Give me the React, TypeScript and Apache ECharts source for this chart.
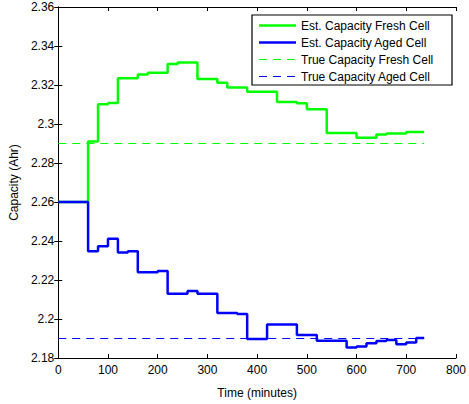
import React, { useEffect, useRef } from "react";
import * as echarts from "echarts";

const freshTimes = [0, 60, 80, 100, 120, 160, 180, 220, 240, 280, 320, 340, 380, 440, 480, 500, 540, 600, 640, 660, 700, 736];
const freshValues = [2.26, 2.291, 2.3101, 2.3108, 2.3234, 2.3254, 2.3263, 2.3308, 2.3315, 2.3231, 2.3212, 2.3187, 2.3165, 2.3113, 2.3106, 2.3076, 2.2954, 2.2929, 2.2946, 2.2951, 2.2959, 2.2959];

const agedTimes = [0, 60, 80, 100, 120, 140, 160, 200, 220, 260, 280, 320, 360, 380, 420, 480, 520, 540, 580, 600, 620, 640, 660, 680, 700, 720, 736];
const agedValues = [2.26, 2.2348, 2.2373, 2.2412, 2.2341, 2.2348, 2.224, 2.2246, 2.213, 2.2144, 2.213, 2.2031, 2.2026, 2.1898, 2.1972, 2.1918, 2.1889, 2.1888, 2.1854, 2.1859, 2.1876, 2.1887, 2.1892, 2.1871, 2.1879, 2.1903, 2.1903];

const trueFresh = 2.29;
const trueAged = 2.19;
const trueSpan = [0, 736];

const legendNames = [
  "Est. Capacity Fresh Cell",
  "Est. Capacity Aged Cell",
  "True Capacity Fresh Cell",
  "True Capacity Aged Cell",
];

const GREEN = "#00ff00";
const BLUE = "#0000ff";
const FONT = 'Arial, "Liberation Sans", Helvetica, sans-serif';

export default function App() {
  const ref = useRef<HTMLDivElement>(null);
  useEffect(() => {
    if (!ref.current) return;
    const chart = echarts.init(ref.current, null, { renderer: "svg" });
    const gl = 57, gt = 7, gw = 400, gh = 356;
    const legendX = 252, legendY = 15;
    const rowY = [25.5, 42.5, 59.5, 76.5];
    const legendColors = [GREEN, BLUE, GREEN, BLUE];
    const legendDash = [false, false, true, true];
    const legendGraphics: any[] = [
      {
        type: "rect",
        shape: { x: legendX, y: legendY, width: 200, height: 70 },
        style: { fill: "#fff", stroke: "#000", lineWidth: 1.2 },
        z: 100,
      },
    ];
    legendNames.forEach((name, i) => {
      legendGraphics.push({
        type: "line",
        shape: { x1: 259, y1: rowY[i], x2: 296, y2: rowY[i] },
        style: {
          stroke: legendColors[i],
          lineWidth: legendDash[i] ? 1 : 2.5,
          lineDash: legendDash[i] ? [8, 6] : null,
        },
        z: 101,
      });
      legendGraphics.push({
        type: "text",
        x: 301,
        y: rowY[i],
        style: {
          text: name,
          fill: "#000",
          font: `12px ${FONT}`,
          textVerticalAlign: "middle",
          verticalAlign: "middle",
        },
        z: 101,
      });
    });

    const fmt = (v: number) => String(parseFloat(v.toFixed(2)));
    const option: any = {
      animation: false,
      backgroundColor: "#fff",
      color: [GREEN, BLUE, GREEN, BLUE],
      grid: { left: gl, top: gt, width: gw, height: gh, containLabel: false },
      xAxis: [
        {
          type: "value",
          min: 0,
          max: 800,
          interval: 100,
          position: "bottom",
          name: "Time (minutes)",
          nameLocation: "middle",
          nameGap: 29,
          nameTextStyle: { color: "#000", fontSize: 12, fontFamily: FONT },
          axisLine: { show: true, lineStyle: { color: "#000", width: 1 } },
          axisTick: { show: true, inside: true, length: 4, lineStyle: { color: "#000" } },
          axisLabel: { color: "#000", fontSize: 12, fontFamily: FONT, margin: 6 },
          splitLine: { show: false },
        },
        {
          type: "value",
          min: 0,
          max: 800,
          interval: 100,
          position: "top",
          axisLine: { show: true, lineStyle: { color: "#000", width: 1 } },
          axisTick: { show: true, inside: true, length: 4, lineStyle: { color: "#000" } },
          axisLabel: { show: false },
          splitLine: { show: false },
        },
      ],
      yAxis: [
        {
          type: "value",
          min: 2.18,
          max: 2.36,
          interval: 0.02,
          position: "left",
          name: "Capacity (Ahr)",
          nameLocation: "middle",
          nameGap: 37,
          nameRotate: 90,
          nameTextStyle: { color: "#000", fontSize: 12, fontFamily: FONT },
          axisLine: { show: true, lineStyle: { color: "#000", width: 1 } },
          axisTick: { show: true, inside: true, length: 4, lineStyle: { color: "#000" } },
          axisLabel: { color: "#000", fontSize: 12, fontFamily: FONT, margin: 4, formatter: fmt },
          splitLine: { show: false },
        },
        {
          type: "value",
          min: 2.18,
          max: 2.36,
          interval: 0.02,
          position: "right",
          axisLine: { show: true, lineStyle: { color: "#000", width: 1 } },
          axisTick: { show: true, inside: true, length: 4, lineStyle: { color: "#000" } },
          axisLabel: { show: false },
          splitLine: { show: false },
        },
      ],
      series: [
        {
          name: legendNames[2],
          type: "line",
          data: trueSpan.map((t) => [t, trueFresh]),
          symbol: "none",
          color: GREEN,
          itemStyle: { color: GREEN },
          lineStyle: { color: GREEN, width: 1.2, type: [8, 6] },
          z: 2,
        },
        {
          name: legendNames[3],
          type: "line",
          data: trueSpan.map((t) => [t, trueAged]),
          symbol: "none",
          color: BLUE,
          itemStyle: { color: BLUE },
          lineStyle: { color: BLUE, width: 1.2, type: [8, 6] },
          z: 2,
        },
        {
          name: legendNames[0],
          type: "line",
          step: "end",
          data: freshTimes.map((t, i) => [t, freshValues[i]]),
          symbol: "none",
          color: GREEN,
          lineStyle: { color: GREEN, width: 2.5 },
          z: 3,
        },
        {
          name: legendNames[1],
          type: "line",
          step: "end",
          data: agedTimes.map((t, i) => [t, agedValues[i]]),
          symbol: "none",
          color: BLUE,
          lineStyle: { color: BLUE, width: 2.5 },
          z: 4,
        },
      ],
      graphic: legendGraphics,
    };
    chart.setOption(option);
    return () => chart.dispose();
  }, []);
  return (
    <div
      ref={ref}
      style={{ position: "absolute", left: 0, top: 0, width: 469, height: 404 }}
    />
  );
}
